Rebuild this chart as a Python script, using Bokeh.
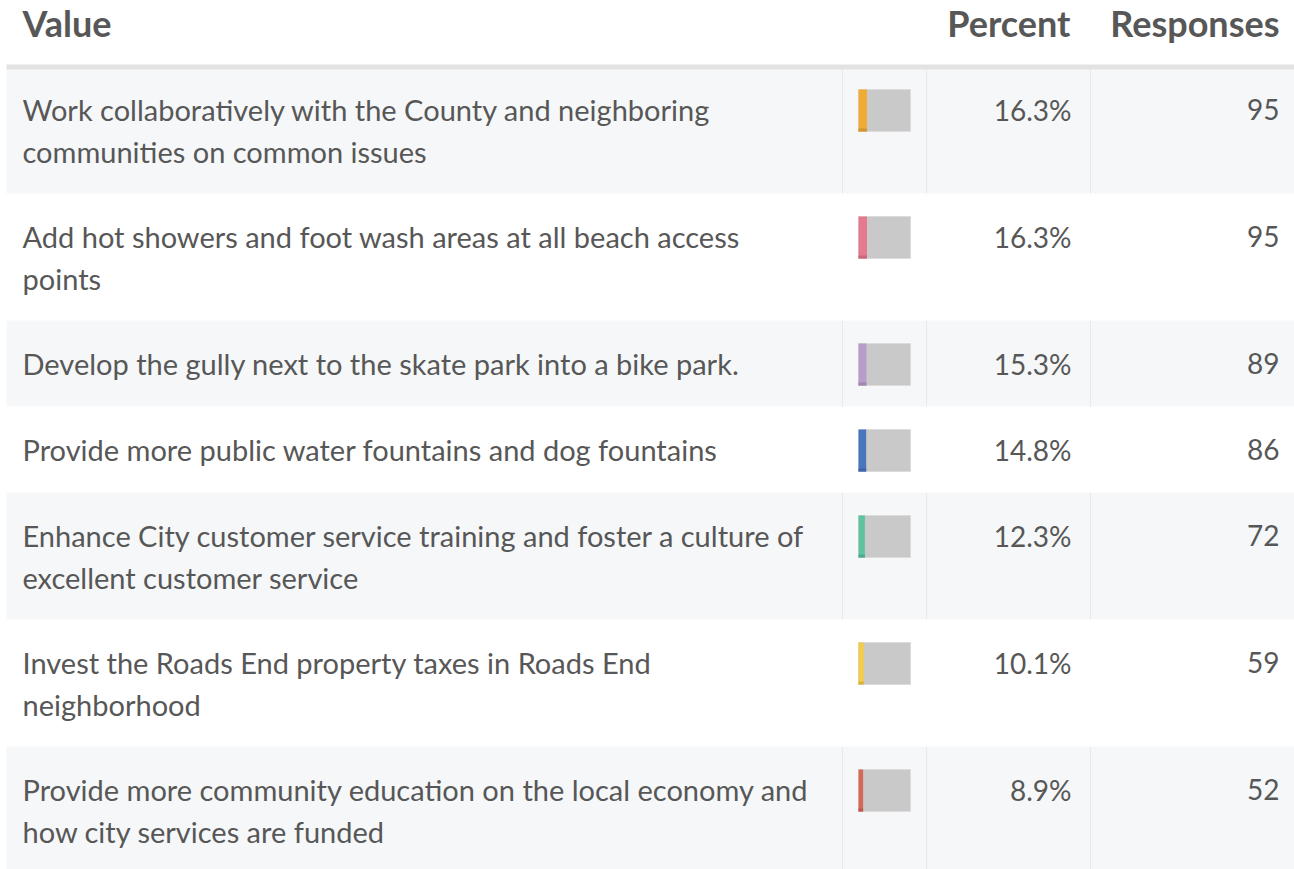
from bokeh.plotting import figure
from bokeh.models import Range1d
from bokeh.core.properties import value
from bokeh.embed import file_html
from bokeh.resources import INLINE

# ---- data ----
labels = [
    "Work collaboratively with the County and neighboring\ncommunities on common issues",
    "Add hot showers and foot wash areas at all beach access\npoints",
    "Develop the gully next to the skate park into a bike park.",
    "Provide more public water fountains and dog fountains",
    "Enhance City customer service training and foster a culture of\nexcellent customer service",
    "Invest the Roads End property taxes in Roads End\nneighborhood",
    "Provide more community education on the local economy and\nhow city services are funded",
]
percents = [16.3, 16.3, 15.3, 14.8, 12.3, 10.1, 8.9]
responses = [95, 95, 89, 86, 72, 59, 52]
colors = ["#f0ab35", "#e57a8e", "#b89ccb", "#4a76c0", "#5dc49f", "#f5cb4c", "#d4695a"]
dark_colors = ["#d39530", "#c9697b", "#a287b3", "#3f66a6", "#4fab8a", "#d9b342", "#ba5b4e"]
headers = ["Value", "Percent", "Responses"]

# ---- layout ----
W, H = 1294, 869
X_LEFT, X_RIGHT = 6, 1294
DIVIDERS = [842, 926, 1090]
TEXT_X = 22
BAR_X, BAR_W, BAR_H = 858, 52, 42
PCT_X, RESP_X = 1071, 1279
HEADER_LINE = (64, 69)
ROWS_START = 66
LINE_GAP = 42
TEXT_OFF = 43
TEXT_COLOR = "#575757"
FONT = value("Lato")

p = figure(width=W, height=H, x_range=Range1d(0, W), y_range=Range1d(H, 0),
           output_backend="svg", toolbar_location=None, min_border=0)
p.axis.visible = False
p.grid.visible = False
p.outline_line_color = None
p.background_fill_color = "white"
p.border_fill_color = "white"

# row geometry
tops, bots = [], []
y = ROWS_START
for lab in labels:
    n = lab.count("\n") + 1
    h = 86 + 41 * (n - 1)
    tops.append(y)
    bots.append(y + h)
    y += h

# striped rows
g_idx = [i for i in range(len(labels)) if i % 2 == 0]
p.quad(left=[X_LEFT] * len(g_idx), right=[X_RIGHT] * len(g_idx),
       top=[tops[i] for i in g_idx], bottom=[bots[i] for i in g_idx],
       fill_color="#f6f7f9", line_color=None)
sx, sy0, sy1 = [], [], []
for i in g_idx:
    for d in DIVIDERS:
        sx.append(d); sy0.append(tops[i]); sy1.append(bots[i])
p.segment(x0=sx, x1=sx, y0=sy0, y1=sy1, line_color="#e8e9ec", line_width=1)

# header line
p.quad(left=[X_LEFT], right=[X_RIGHT], top=[HEADER_LINE[0]], bottom=[HEADER_LINE[1]],
       fill_color="#e3e3e3", line_color=None)

# bars
bar_top = [t + 23 for t in tops]
bar_bot = [t + 23 + BAR_H for t in tops]
p.quad(left=[BAR_X] * len(labels), right=[BAR_X + BAR_W] * len(labels),
       top=bar_top, bottom=bar_bot, fill_color="#c9c9c9", line_color="#dcdcdc", line_width=1)
fill_right = [BAR_X + BAR_W * v / 100 for v in percents]
p.quad(left=[BAR_X] * len(labels), right=fill_right, top=bar_top, bottom=bar_bot,
       fill_color=colors, line_color=None)
p.quad(left=[BAR_X] * len(labels), right=fill_right, top=[b - 3 for b in bar_bot], bottom=bar_bot,
       fill_color=dark_colors, line_color=None)

# label text lines
lx, ly, lt = [], [], []
for i, lab in enumerate(labels):
    for j, line in enumerate(lab.split("\n")):
        lx.append(TEXT_X); ly.append(tops[i] + TEXT_OFF + j * LINE_GAP); lt.append(line)
p.text(x=lx, y=ly, text=lt, text_font=FONT, text_font_size="29px",
       text_color=TEXT_COLOR, text_baseline="middle", text_align="left")

first_line = [t + TEXT_OFF for t in tops]
p.text(x=[PCT_X] * len(labels), y=first_line, text=[f"{v:.1f}%" for v in percents],
       text_font=FONT, text_font_size="28px", text_color=TEXT_COLOR,
       text_baseline="middle", text_align="right")
p.text(x=[RESP_X] * len(labels), y=first_line, text=[str(v) for v in responses],
       text_font=FONT, text_font_size="28px", text_color=TEXT_COLOR,
       text_baseline="middle", text_align="right")

# headers
p.text(x=[TEXT_X, 1070, 1279], y=[22, 22, 22], text=headers, text_font=FONT,
       text_font_size="36px", text_font_style="bold", text_color="#575757",
       text_baseline="middle", text_align=["left", "right", "right"])

open("out.html", "w").write(file_html(p, INLINE))
